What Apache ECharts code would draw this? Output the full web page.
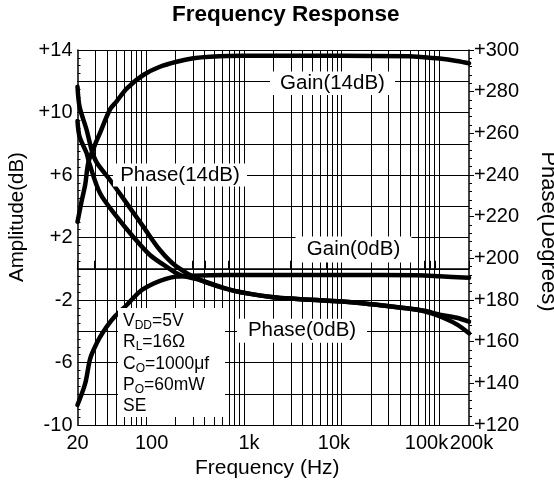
<!DOCTYPE html>
<html>
<head>
<meta charset="utf-8">
<script src="https://cdn.jsdelivr.net/npm/echarts@6/dist/echarts.min.js"></script>
<style>
  html, body { margin: 0; padding: 0; background: #fff; }
  #chart { width: 554px; height: 484px; }
</style>
</head>
<body>
<div id="chart"></div>
<script>
// values (frequency in Hz, gain in dB, phase in degrees)
const gain14Freq  = [20, 22, 24, 25.8, 30, 34, 43, 50, 64, 94, 139, 206, 305, 452, 1000, 10000, 50000, 60000, 100000, 150000, 200000];
const gain14Db    = [3.0, 4.3, 5.4, 6.8, 7.9, 8.7, 10.2, 10.7, 11.55, 12.4, 12.93, 13.25, 13.47, 13.57, 13.63, 13.63, 13.6, 13.57, 13.45, 13.3, 13.15];

const gain0Freq   = [20, 24, 27, 31.4, 36.7, 46.4, 63.7, 87, 120, 160, 206, 300, 452, 1000, 10000, 60000, 100000, 200000];
const gain0Db     = [-8.72, -7.33, -5.73, -4.77, -4.03, -3.17, -2.32, -1.45, -0.95, -0.65, -0.5, -0.45, -0.42, -0.4, -0.4, -0.42, -0.48, -0.58];

const phase14Freq = [20, 21, 24.8, 27.9, 31.4, 43, 63.7, 94, 139, 206, 357, 782, 2000, 3500, 12600, 46000, 70000, 100000, 150000, 200000];
const phase14Deg  = [282.4, 272.8, 261.6, 252, 246, 237.6, 226.4, 215.2, 204, 196, 189.6, 184.5, 181.3, 180.5, 178.9, 176, 174.8, 173, 171.5, 169.6];

const phase0Freq  = [20, 21, 24.8, 26.4, 34, 50.3, 74, 110, 162, 224, 357, 782, 2000, 3500, 12600, 46000, 70000, 100000, 150000, 200000];
const phase0Deg   = [265.9, 258.4, 250.4, 245.6, 231.2, 220, 210.4, 201.6, 196, 192, 189.6, 184.5, 181.3, 180.5, 178.9, 176, 174.6, 172.2, 168.3, 164];

// axis ticks
const gridFreqs   = [20, 30, 40, 50, 60, 70, 80, 90,
                     100, 200, 300, 400, 500, 600, 700, 800, 900,
                     1000, 2000, 3000, 4000, 5000, 6000, 7000, 8000, 9000,
                     10000, 20000, 30000, 40000, 50000, 60000, 70000, 80000, 90000,
                     100000, 200000];
const xTickFreqs  = [20, 100, 1000, 10000, 100000, 200000];
const xTickLabels = ['20', '100', '1k', '10k', '100k', '200k'];
const ampTicks    = [-10, -6, -2, 2, 6, 10, 14];

// in-plot labels: text and where they sit (frequency, dB)
const labelTexts  = ['Gain(14dB)', 'Phase(14dB)', 'Gain(0dB)', 'Phase(0dB)'];
const labelFreqs  = [8060, 223, 13210, 3934];
const labelDb     = [11.87, 6.0, 1.23, -3.97];
const annotation  = ['{n|V}{s|DD}{n|=5V}', '{n|R}{s|L}{n|=16Ω}', '{n|C}{s|O}{n|=1000μf}', '{n|P}{s|O}{n|=60mW}', '{n|SE}'];
const annotFreq   = 182.6;
const annotDb     = -6.0;

const FONT = '"Liberation Sans", Arial, sans-serif';
const xLabelNudge = [0, 5.7, 5.2, -7.7, -13, 2.5];
const labelBoxSize = [[125, 23.5], [134, 23], [116, 26], [130, 24]];

const lg = f => Math.log10(f);
const pairs = (fs, vs) => fs.map((f, i) => [lg(f), vs[i]]);

const xRich = {};
xLabelNudge.forEach((d, i) => {
    xRich['p' + i] = {
        fontSize: 20, fontFamily: FONT, color: '#000',
        padding: d >= 0 ? [0, 0, 0, 2 * d] : [0, -2 * d, 0, 0]
    };
});

const chart = echarts.init(document.getElementById('chart'), null, {renderer: 'canvas'});

const curve = (name, data, yIdx) => ({
    name: name,
    type: 'line',
    yAxisIndex: yIdx,
    data: data,
    smooth: 0.3,
    showSymbol: false,
    symbol: 'none',
    z: 3,
    lineStyle: {color: '#000', width: 4.5, cap: 'round', join: 'round'}
});

const labelPoints = labelTexts.map((t, i) => ({
    coord: [lg(labelFreqs[i]), labelDb[i]],
    symbol: 'rect',
    symbolSize: labelBoxSize[i],
    itemStyle: {color: '#fff', borderWidth: 0},
    label: {
        show: true, position: 'inside', formatter: t,
        fontSize: 20.5, fontFamily: FONT, color: '#000'
    }
}));

labelPoints.push({
    coord: [lg(annotFreq), annotDb],
    symbol: 'rect',
    symbolSize: [107, 109],
    itemStyle: {color: '#fff', borderWidth: 0},
    label: {
        show: true,
        position: [5, 2.3],
        align: 'left',
        verticalAlign: 'top',
        formatter: annotation.join('\n'),
        fontSize: 17.5, fontFamily: FONT, color: '#000', lineHeight: 21.4,
        rich: {
            n: {fontSize: 17.5, fontFamily: FONT, color: '#000', lineHeight: 21.4, verticalAlign: 'middle'},
            s: {fontSize: 12, fontFamily: FONT, color: '#000', lineHeight: 9, verticalAlign: 'bottom'}
        }
    }
});

const option = {
    animation: false,
    backgroundColor: '#fff',
    title: {
        text: 'Frequency Response',
        left: 172,
        top: 3,
        padding: 0,
        textStyle: {fontSize: 22.5, fontWeight: 'bold', fontFamily: FONT, color: '#000'}
    },
    grid: {left: 77.5, right: 85, top: 50, bottom: 59, containLabel: false, outerBoundsMode: 'none'},
    xAxis: {
        type: 'value',
        min: lg(20),
        max: lg(200000),
        splitLine: {show: false},
        axisLine: {show: true, lineStyle: {color: '#000', width: 1.5}},
        axisTick: {show: true, inside: true, length: 8, customValues: gridFreqs.map(lg), lineStyle: {color: '#000', width: 1}},
        axisLabel: {
            customValues: xTickFreqs.map(lg),
            margin: 8,
            fontSize: 20, fontFamily: FONT, color: '#000',
            formatter: v => {
                const i = xTickFreqs.findIndex(f => Math.abs(lg(f) - v) < 1e-6);
                return i < 0 ? '' : '{p' + i + '|' + xTickLabels[i] + '}';
            },
            rich: xRich
        },
        name: 'Frequency (Hz)',
        nameLocation: 'middle',
        nameGap: 31,
        nameTextStyle: {fontSize: 21, fontFamily: FONT, color: '#000', padding: [0, 12, 0, 0]}
    },
    yAxis: [
        {
            type: 'value',
            position: 'left',
            min: -10, max: 14, interval: 2,
            axisLine: {show: true, lineStyle: {color: '#000', width: 1.5}},
            axisTick: {show: true, inside: true, length: 5, lineStyle: {color: '#000'}},
            minorTick: {show: true, splitNumber: 4, length: 3, lineStyle: {color: '#000'}},
            splitLine: {show: true, lineStyle: {color: '#000', width: 1}},
            axisLabel: {
                customValues: ampTicks,
                margin: 5,
                fontSize: 20, fontFamily: FONT, color: '#000',
                formatter: v => (v > 0 ? '+' + v : '' + v)
            },
            name: 'Amplitude(dB)',
            nameLocation: 'middle',
            nameRotate: 90,
            nameGap: 50,
            nameTextStyle: {fontSize: 20.5, fontFamily: FONT, color: '#000', padding: [0, 0, 0, 41]}
        },
        {
            type: 'value',
            position: 'right',
            min: 120, max: 300, interval: 20,
            axisLine: {show: true, lineStyle: {color: '#000', width: 1.5}},
            axisTick: {show: true, inside: false, length: 5, lineStyle: {color: '#000'}},
            minorTick: {show: true, splitNumber: 5, length: 3, lineStyle: {color: '#000'}},
            splitLine: {show: false},
            axisLabel: {
                margin: 5,
                fontSize: 20, fontFamily: FONT, color: '#000',
                formatter: v => '+' + v
            },
            name: 'Phase(Degrees)',
            nameLocation: 'middle',
            nameRotate: -90,
            nameGap: 68,
            nameTextStyle: {fontSize: 22, fontFamily: FONT, color: '#000', padding: [0, 12, 0, 0]}
        }
    ],
    series: [
        {
            name: 'grid',
            type: 'line',
            data: [],
            z: 1,
            silent: true,
            markLine: {
                silent: true,
                symbol: ['none', 'none'],
                label: {show: false},
                lineStyle: {color: '#000', width: 1, type: 'solid'},
                emphasis: {disabled: true},
                data: gridFreqs.slice(1, -1).map(f => ({xAxis: lg(f)}))
            }
        },
        {
            name: 'labels',
            type: 'line',
            data: [],
            z: 2,
            silent: true,
            markPoint: {
                silent: true,
                emphasis: {disabled: true},
                data: labelPoints
            }
        },
        curve('Gain(14dB)', pairs(gain14Freq, gain14Db), 0),
        curve('Gain(0dB)', pairs(gain0Freq, gain0Db), 0),
        curve('Phase(14dB)', pairs(phase14Freq, phase14Deg), 1),
        curve('Phase(0dB)', pairs(phase0Freq, phase0Deg), 1)
    ]
};

chart.setOption(option);
</script>
</body>
</html>
